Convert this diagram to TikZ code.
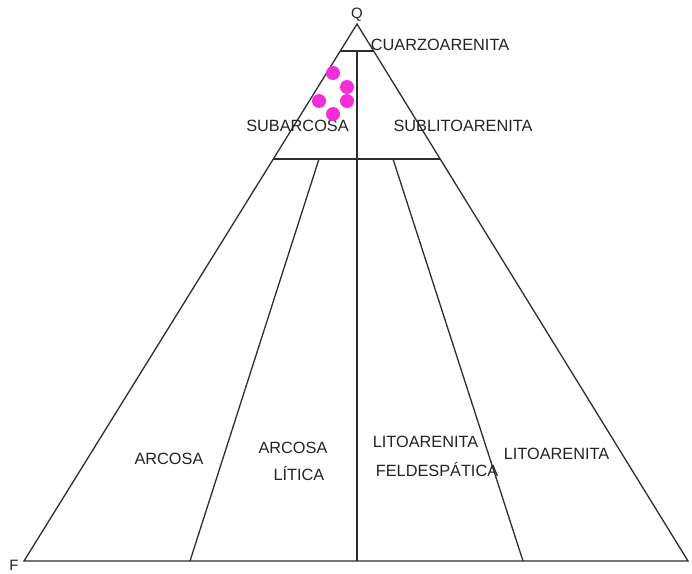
\documentclass[tikz,border=0pt]{standalone}
\usepackage{fontspec}
\setmainfont{Liberation Sans}
\definecolor{edge}{RGB}{45,45,45}
\definecolor{ink}{RGB}{35,35,35}
\definecolor{sample}{RGB}{245,45,215}
\begin{document}
\begin{tikzpicture}[x=1pt,y=-1pt,
  boundary/.style={draw=edge,line width=1.3pt},
  field/.style={text=ink,font=\fontsize{16.3}{19}\selectfont,inner sep=0pt,anchor=center},
  pole/.style={text=ink,font=\fontsize{15}{18}\selectfont,inner sep=0pt},
  point/.style={circle,fill=sample,draw=none,minimum size=14pt,inner sep=0pt}]
\useasboundingbox (0,0) rectangle (692,573);
% vertices of the QFL triangle
\coordinate (Q) at (357,24);
\coordinate (F) at (24,561);
\coordinate (L) at (688,561);
% field boundaries
\coordinate (qa) at (340.3,51);
\coordinate (qb) at (373.6,51);
\coordinate (qc) at (357,51);
\coordinate (ma) at (273.3,159);
\coordinate (mb) at (440.2,159);
\coordinate (ia) at (319,159);
\coordinate (ib) at (393,159);
\coordinate (ja) at (190,561);
\coordinate (jb) at (523,561);
\coordinate (fc) at (357,561);
\draw[boundary] (Q) -- (F) -- (L) -- cycle;
\draw[boundary] (qa) -- (qb);
\draw[boundary] (ma) -- (mb);
\draw[boundary] (qc) -- (fc);
\draw[boundary] (ia) -- (ja);
\draw[boundary] (ib) -- (jb);
% pole labels
\node[pole] (lq) at (357,15) {Q};
\node[pole] (lf) at (14,565) {F};
% field names
\node[field] (t1) at (440,45) {CUARZOARENITA};
\node[field] (t2) at (297.5,126) {SUBARCOSA};
\node[field] (t3) at (463,126) {SUBLITOARENITA};
\node[field] (t4) at (169,459) {ARCOSA};
\node[field] (t5) at (293,448) {ARCOSA};
\node[field] (t6) at (299,474) {LÍTICA};
\node[field] (t7) at (425.5,442) {LITOARENITA};
\node[field] (t8) at (437,470) {FELDESPÁTICA};
\node[field] (t9) at (556.5,454) {LITOARENITA};
% plotted samples
\node[point] (s1) at (333,73) {};
\node[point] (s2) at (347,87) {};
\node[point] (s3) at (319,101) {};
\node[point] (s4) at (347,101) {};
\node[point] (s5) at (333,114) {};
\end{tikzpicture}
\end{document}
